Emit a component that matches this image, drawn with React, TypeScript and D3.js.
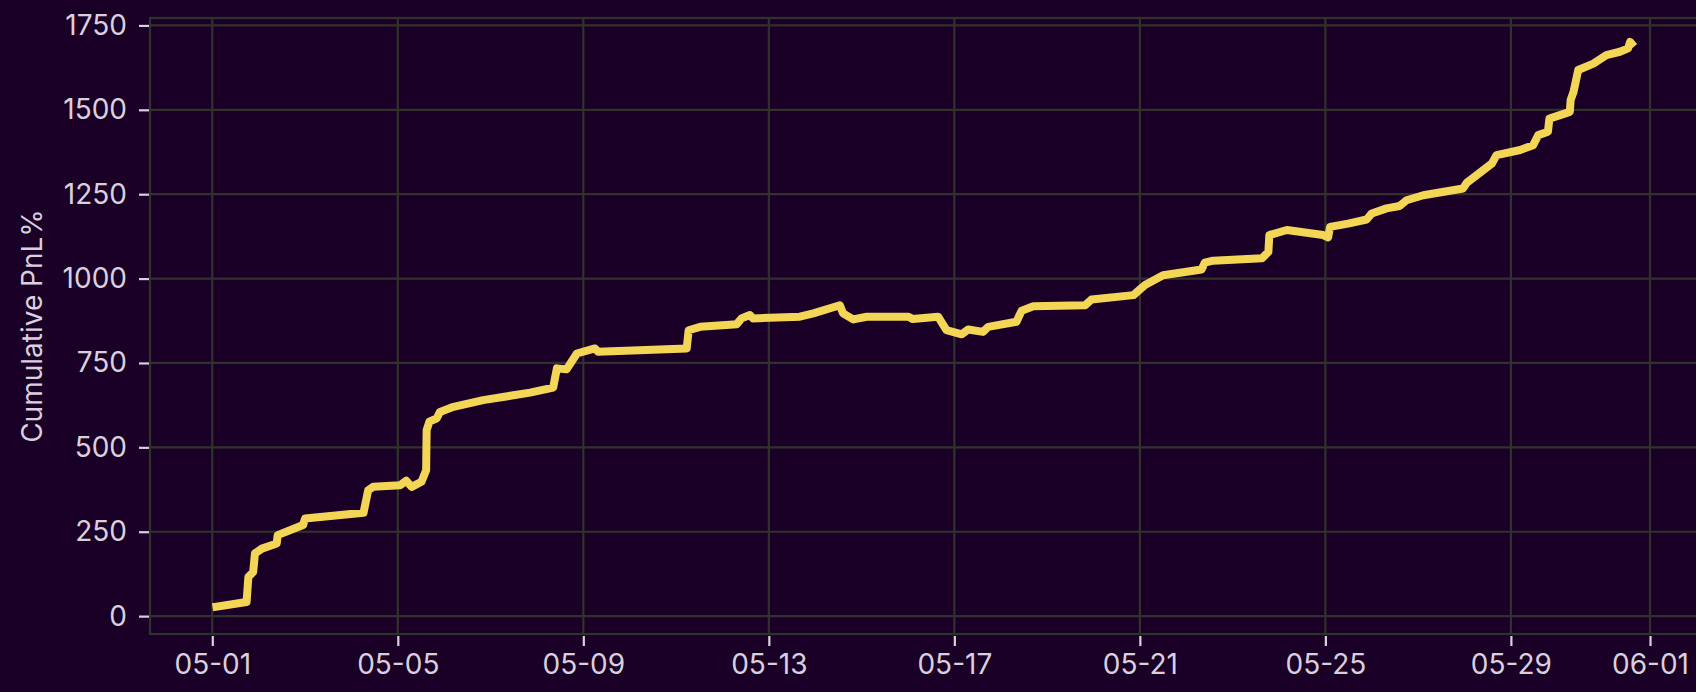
import React, { useRef, useEffect } from "react";
import * as d3 from "d3";

// trade timestamps (2024) and cumulative pnl in %
const times = [
  "05-01 02:10", "05-01 17:45", "05-01 18:40", "05-01 21:10", "05-01 22:05", "05-02 01:40",
  "05-02 09:20", "05-02 09:50", "05-02 23:00", "05-03 00:00", "05-04 06:15", "05-04 08:40",
  "05-04 11:15", "05-05 01:10", "05-05 04:20", "05-05 07:10", "05-05 12:15", "05-05 14:40",
  "05-05 14:55", "05-05 16:20", "05-05 20:10", "05-05 21:50", "05-06 04:50", "05-06 20:10",
  "05-07 20:25", "05-08 08:25", "05-08 10:20", "05-08 15:20", "05-08 20:40", "05-09 06:00",
  "05-09 07:40", "05-11 05:30", "05-11 06:30", "05-11 12:30", "05-12 07:25", "05-12 09:50",
  "05-12 14:10", "05-12 15:50", "05-13 16:05", "05-13 23:00", "05-14 12:45", "05-14 14:25",
  "05-14 19:40", "05-15 02:40", "05-16 00:15", "05-16 02:25", "05-16 15:35", "05-16 19:55",
  "05-17 03:50", "05-17 07:10", "05-17 14:50", "05-17 17:30", "05-18 08:10", "05-18 10:50",
  "05-18 16:50", "05-19 19:40", "05-19 23:00", "05-20 20:40", "05-21 02:40", "05-21 12:00",
  "05-22 07:55", "05-22 09:35", "05-22 13:55", "05-23 15:10", "05-23 18:30", "05-23 19:00",
  "05-24 04:05", "05-24 22:50", "05-25 01:25", "05-25 02:25", "05-25 11:45", "05-25 21:20",
  "05-26 00:00", "05-26 07:40", "05-26 14:25", "05-26 18:00", "05-27 02:40", "05-27 23:15",
  "05-28 01:10", "05-28 06:15", "05-28 14:10", "05-28 16:35", "05-29 04:50", "05-29 11:30",
  "05-29 14:10", "05-29 19:10", "05-29 19:55", "05-30 06:30", "05-30 06:55", "05-30 08:25",
  "05-30 10:50", "05-30 18:40", "05-31 01:25", "05-31 08:25", "05-31 12:40", "05-31 13:40",
  "05-31 14:25",
];
const pnl = [
  28, 42, 116, 131, 186, 200,
  215, 240, 270, 289, 306, 373,
  383, 388, 401, 383, 398, 432,
  551, 576, 586, 605, 620, 640,
  662, 677, 734, 731, 778, 793,
  783, 793, 847, 857, 865, 882,
  892, 882, 887, 897, 921, 897,
  879, 887, 887, 880, 887, 847,
  835, 849, 842, 857, 872, 905,
  918, 921, 938, 951, 981, 1010,
  1027, 1047, 1053, 1060, 1079, 1129,
  1144, 1129, 1122, 1153, 1163, 1175,
  1193, 1208, 1215, 1232, 1247, 1267,
  1284, 1306, 1341, 1366, 1381, 1395,
  1425, 1435, 1474, 1494, 1529, 1553,
  1618, 1637, 1662, 1672, 1682, 1701,
  1696,
];

const xTickLabels = ["05-01", "05-05", "05-09", "05-13", "05-17", "05-21", "05-25", "05-29", "06-01"];
const yTicks = [0, 250, 500, 750, 1000, 1250, 1500, 1750];
const xDomain = ["04-29 15:46", "06-02 07:02"];
const yDomain = [-53, 1772];

const parse = d3.timeParse("%Y-%m-%d %H:%M");
const toDate = (s: string) => parse("2024-" + s) as Date;

const W = 1696, H = 692;
const left = 150, right = 1710, top = 18, bottom = 634;
const bg = "#1a0026";
const gridColor = "#30332b";
const textColor = "#d9d0de";
const lineColor = "#f4d657";
const font = "Inter, 'Open Sans', sans-serif";
const fontSize = "28px";

const App = () => {
  const svgRef = useRef(null);

  useEffect(() => {
    const svg = d3.select(svgRef.current);
    svg.selectAll("*").remove();

    const x = d3.scaleTime().domain(xDomain.map(toDate)).range([left, right]);
    const y = d3.scaleLinear().domain(yDomain).range([bottom, top]);

    svg.append("rect").attr("width", W).attr("height", H).attr("fill", bg);

    // grid
    const xTickDates = xTickLabels.map(s => toDate(s + " 00:00"));
    svg.append("g").selectAll("line").data(xTickDates).enter().append("line")
      .attr("x1", d => x(d)).attr("x2", d => x(d))
      .attr("y1", top).attr("y2", bottom)
      .attr("stroke", gridColor).attr("stroke-width", 2.2);
    svg.append("g").selectAll("line").data(yTicks).enter().append("line")
      .attr("x1", left).attr("x2", right)
      .attr("y1", d => y(d)).attr("y2", d => y(d))
      .attr("stroke", gridColor).attr("stroke-width", 2.2);

    // frame
    svg.append("rect")
      .attr("x", left).attr("y", top).attr("width", right - left).attr("height", bottom - top)
      .attr("fill", "none").attr("stroke", gridColor).attr("stroke-width", 2.2);

    // x axis
    const xAxis = d3.axisBottom(x).tickValues(xTickDates)
      .tickFormat((d, i) => xTickLabels[i]).tickSize(10).tickPadding(8);
    const gx = svg.append("g").attr("transform", `translate(0,${bottom + 2})`).call(xAxis);
    gx.select(".domain").remove();
    gx.selectAll(".tick line").attr("stroke", textColor).attr("stroke-width", 2.2);
    gx.selectAll(".tick text").attr("fill", textColor)
      .style("font-family", font).style("font-size", fontSize);

    // y axis
    const yAxis = d3.axisLeft(y).tickValues(yTicks).tickFormat(d3.format("d"))
      .tickSize(10).tickPadding(12);
    const gy = svg.append("g").attr("transform", `translate(${left - 1},0)`).call(yAxis);
    gy.select(".domain").remove();
    gy.selectAll(".tick line").attr("stroke", textColor).attr("stroke-width", 2.2);
    gy.selectAll(".tick text").attr("fill", textColor)
      .style("font-family", font).style("font-size", fontSize);

    svg.append("text")
      .attr("transform", `translate(42,${(top + bottom) / 2}) rotate(-90)`)
      .attr("text-anchor", "middle")
      .attr("fill", textColor)
      .style("font-family", font).style("font-size", fontSize)
      .text("Cumulative PnL%");

    // pnl line
    const data = times.map((t, i) => ({ t: toDate(t), v: pnl[i] }));
    const line = d3.line<any>().x(d => x(d.t)).y(d => y(d.v));
    svg.append("path")
      .datum(data)
      .attr("d", line)
      .attr("fill", "none")
      .attr("stroke", lineColor)
      .attr("stroke-width", 8)
      .attr("stroke-linejoin", "round")
      .attr("stroke-linecap", "square");
  }, []);

  return (
    <div style={{ position: "absolute", left: 0, top: 0 }}>
      <svg ref={svgRef} width={W} height={H} style={{ display: "block" }}></svg>
    </div>
  );
};

export default App;
